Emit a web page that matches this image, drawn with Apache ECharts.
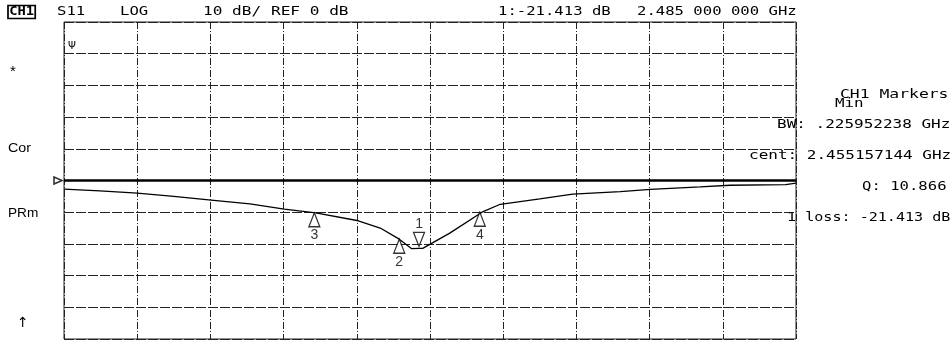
<!DOCTYPE html>
<html><head><meta charset="utf-8">
<script src="https://cdn.jsdelivr.net/npm/echarts@6/dist/echarts.min.js"></script>
<style>html,body{margin:0;padding:0;background:#fff}#c{width:952px;height:347px}</style>
</head><body><div id="c"></div>
<script>
// Frequency (GHz) and S11 magnitude (dB)
const traceFreq = [2.000, 2.049, 2.100, 2.150, 2.201, 2.254, 2.301, 2.344, 2.402, 2.432, 2.458, 2.475, 2.485, 2.490, 2.504, 2.527, 2.571, 2.596, 2.650, 2.695, 2.760, 2.801, 2.869, 2.910, 2.986, 3.000];
const traceDb   = [-2.7, -3.3, -4.0, -5.0, -6.2, -7.4, -9.0, -10.2, -12.7, -15.0, -18.5, -21.5, -21.4, -21.4, -19.6, -16.6, -10.0, -7.5, -5.8, -4.3, -3.5, -2.8, -2.0, -1.5, -1.3, -0.8];
// Markers
const markerNames = ['1', '2', '3', '4'];
const markerFreq  = [2.485, 2.458, 2.342, 2.568];
const markerDb    = [-21.413, -18.5, -10.2, -10.0];
const markerDir   = ['down', 'up', 'up', 'up'];
// Axis settings
const xMin = 2.0, xMax = 3.0, xStep = 0.1;
const yMin = -50, yMax = 50, yStep = 10;
const refLevel = 0;
// Annotation texts
const headerTexts = ['CH1', 'S11', 'LOG', '10 dB/ REF 0 dB', '1:-21.413 dB', '2.485 000 000 GHz'];
const leftTexts = ['*', 'Cor', 'PRm', '\u2191'];
const markerInfo = ['CH1 Markers', 'Min', 'BW: .225952238 GHz', 'cent: 2.455157144 GHz', 'Q: 10.866', '1 loss: -21.413 dB'];

const chart = echarts.init(document.getElementById('c'));
const mono = '13px "DejaVu Sans Mono"';
const sans = '13px "Liberation Sans"';
function txt(x, y, text, font, sx, extra) {
  return Object.assign({type: 'text', x: x, y: y, scaleX: sx || 1, z: 10,
    style: {text: text, font: font, fill: '#000', textVerticalAlign: 'middle', textAlign: 'left'}}, extra || {});
}
const graphics = [
  {type: 'text', x: 8, y: 12, scaleX: 1.15, z: 10, style: {text: headerTexts[0], font: 'bold 12px "DejaVu Sans Mono"', fill: '#000', textVerticalAlign: 'middle', borderColor: '#000', borderWidth: 1.5, padding: [1, 1, 0, 1]}},
  txt(57, 12, headerTexts[1], mono, 1.2),
  txt(120, 12, headerTexts[2], mono, 1.2),
  txt(203, 12, headerTexts[3], mono, 1.24),
  txt(498, 12, headerTexts[4], mono, 1.2),
  txt(637, 12, headerTexts[5], mono, 1.2),
  txt(10, 72, leftTexts[0], '15px "Liberation Sans"', 1),
  txt(8, 148, leftTexts[1], sans, 1.1),
  txt(8, 213, leftTexts[2], sans, 1.05),
  txt(17, 323, leftTexts[3], '14px "DejaVu Sans"', 1),
  txt(68, 46, '\u03a8', '10px "DejaVu Sans"', 1),
  txt(840, 95, markerInfo[0], mono, 1.26),
  txt(835, 104, markerInfo[1], mono, 1.22),
  txt(777, 125, markerInfo[2], mono, 1.23),
  txt(749, 156, markerInfo[3], mono, 1.23),
  txt(862, 187, markerInfo[4], mono, 1.2),
  txt(787, 218, markerInfo[5], mono, 1.16)
];

const markerData = markerNames.map((n, i) => {
  const down = markerDir[i] === 'down';
  return {
    value: [markerFreq[i], markerDb[i]],
    name: n,
    symbolRotate: down ? 180 : 0,
    symbolOffset: down ? [0, -9] : [0, 7],
    label: {show: true, formatter: n, position: down ? 'top' : 'bottom', distance: 1,
      color: '#000', fontFamily: 'Liberation Sans', fontSize: 14}
  };
});

chart.setOption({
  animation: false,
  backgroundColor: '#fff',
  grid: {left: 64, right: 156, top: 22, bottom: 8, show: true, borderColor: '#222', borderWidth: 1},
  xAxis: {type: 'value', min: xMin, max: xMax, interval: xStep,
    axisLabel: {show: false}, axisTick: {show: false}, axisLine: {show: false},
    splitLine: {show: true, lineStyle: {color: '#222', width: 1, type: [7, 2, 1, 2]}}},
  yAxis: {type: 'value', min: yMin, max: yMax, interval: yStep,
    axisLabel: {show: false}, axisTick: {show: false}, axisLine: {show: false},
    splitLine: {show: true, lineStyle: {color: '#222', width: 1, type: [10, 2]}}},
  graphic: graphics,
  series: [
    {type: 'line', name: 'S11', data: traceFreq.map((f, i) => [f, traceDb[i]]),
      showSymbol: false, symbol: 'none', lineStyle: {color: '#000', width: 1.3}, z: 3,
      markLine: {silent: true, symbol: 'none', label: {show: false},
        lineStyle: {color: '#000', width: 2.5, type: 'solid'},
        data: [{yAxis: refLevel}]}},
    {type: 'scatter', name: 'markers', data: markerData, symbol: 'triangle', symbolSize: [11, 14],
      itemStyle: {color: '#fff', borderColor: '#000', borderWidth: 1.3}, z: 5},
    {type: 'scatter', name: 'ref', data: [[xMin, refLevel]], symbol: 'triangle', symbolSize: [7, 8],
      symbolRotate: -90, symbolOffset: [-6, 0],
      itemStyle: {color: '#fff', borderColor: '#000', borderWidth: 1.5}, z: 5}
  ]
});
</script></body></html>
